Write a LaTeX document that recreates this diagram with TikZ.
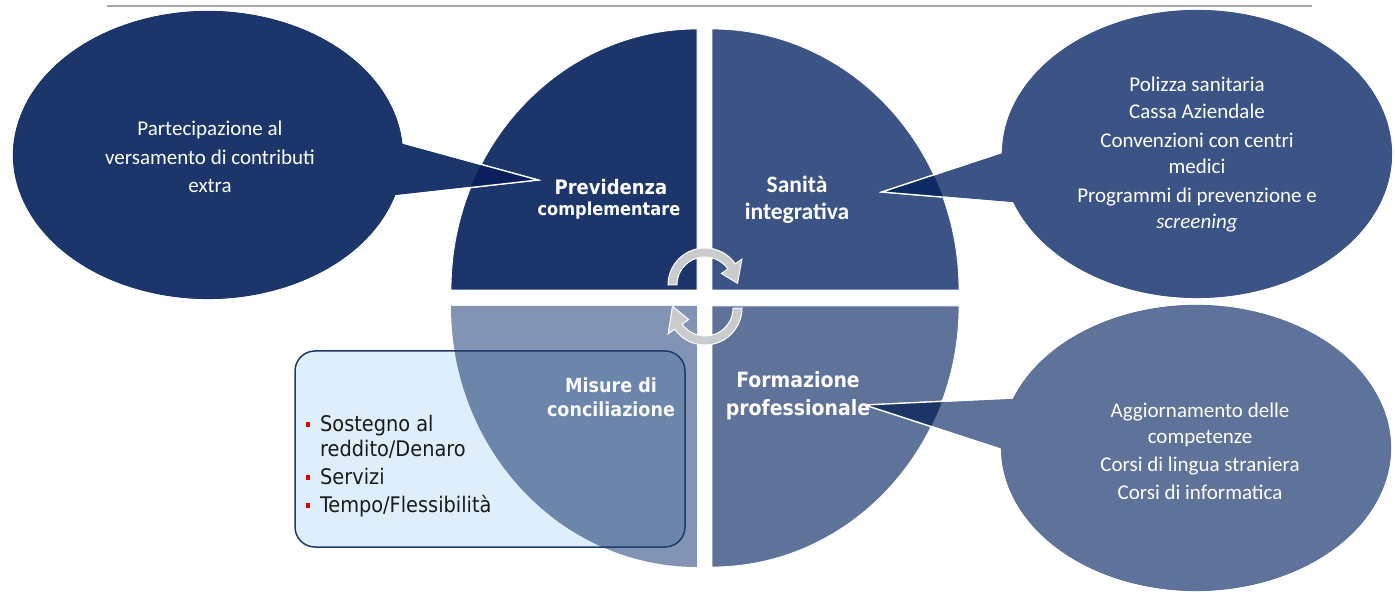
\documentclass[tikz,border=0pt]{standalone}
\usepackage{fontspec}
\setmainfont{Carlito}
\newfontfamily\tahoma[BoldFont={DejaVu Sans Condensed Bold}]{DejaVu Sans Condensed}
\definecolor{navyA}{HTML}{1C366C}
\definecolor{blueB}{HTML}{3C5485}
\definecolor{blueC}{HTML}{5F7299}
\definecolor{blueD}{HTML}{8393B4}
\definecolor{blueDbox}{HTML}{6B85AB}
\definecolor{ovA}{HTML}{0B1F5C}
\definecolor{ovB}{HTML}{0D2A62}
\definecolor{ovC}{HTML}{1D3466}
\definecolor{boxfill}{HTML}{DEEEFA}
\definecolor{boxline}{HTML}{1F3A6E}
\definecolor{arrowgray}{HTML}{CACBCD}
\definecolor{bulred}{HTML}{E00000}
\definecolor{linegray}{HTML}{A6A6A6}
\definecolor{bultext}{HTML}{1A1A1A}
\newcommand{\bulsq}{\makebox[14pt][l]{\textcolor{bulred}{\rule[0.22em]{4pt}{5pt}}}}
\tikzset{
  topline/.style={draw=linegray, line width=1.8pt},
  callout/.style={draw=white, line width=1.3pt},
  quad/.style={draw=white, line width=0.8pt},
  cyc/.style={fill=arrowgray, draw=white, line width=1pt},
  ctext/.style={text=white, align=center, font=\fontsize{21}{26}\selectfont, inner sep=0pt},
  qlab/.style={text=white, align=center, inner sep=0pt},
}
\def\qTL{(697,290) -- (451,290) arc[start angle=180, end angle=270, x radius=246, y radius=261] -- cycle}
\def\qTR{(712,290) -- (712,29) arc[start angle=270, end angle=360, x radius=247, y radius=261] -- cycle}
\def\qBR{(712,306) -- (959,306) arc[start angle=0, end angle=90, x radius=247, y radius=261] -- cycle}
\def\qBL{(697,306) -- (697,567) arc[start angle=90, end angle=180, x radius=246, y radius=261] -- cycle}
\def\cL{(396,195.9) arc[start angle=16.4, end angle=355.3, x radius=196, y radius=145] -- (538,180) -- cycle}
\def\cRT{(1001,152.7) arc[start angle=180.5, end angle=520.25, x radius=196, y radius=145] -- (882,192) -- cycle}
\def\cRB{(1012.2,398) arc[start angle=200.3, end angle=539.6, x radius=196, y radius=144] -- (865,405) -- cycle}
\begin{document}
\begin{tikzpicture}[x=1pt,y=-1pt]
\useasboundingbox (0,0) rectangle (1395,593);
% top rule
\coordinate (lineL) at (107,6);
\coordinate (lineR) at (1312,6);
\draw[topline] (lineL) -- (lineR);
% quadrants
\path[quad, fill=navyA] \qTL;
\path[quad, fill=blueB] \qTR;
\path[quad, fill=blueC] \qBR;
% box with bottom-left quadrant
\fill[boxfill, rounded corners=20pt] (295,351) rectangle (685,547);
\path[fill=blueD] \qBL;
\begin{scope}
  \clip[rounded corners=20pt] (295,351) rectangle (685,547);
  \path[fill=blueDbox] \qBL;
\end{scope}
\draw[boxline, line width=1.5pt, rounded corners=20pt] (295,351) rectangle (685,547);
% callouts
\path[callout, fill=navyA] \cL;
\begin{scope}\clip \qTL; \path[fill=ovA] \cL; \end{scope}
\path[callout] \cL;
\path[callout, fill=blueB] \cRT;
\begin{scope}\clip \qTR; \path[fill=ovB] \cRT; \end{scope}
\path[callout] \cRT;
\path[callout, fill=blueC] \cRB;
\begin{scope}\clip \qBR; \path[fill=ovC] \cRB; \end{scope}
\path[callout] \cRB;
% cycle arrows
\path[cyc] (668,285) arc[start angle=-180, end angle=-35, radius=37] -- (741.9,259.2) -- (737.5,283.3) -- (721.4,273.5) -- (727.9,268.9) arc[start angle=-35, end angle=-180, radius=28] -- cycle;
\path[cyc] (742,308) arc[start angle=0, end angle=145, radius=37] -- (668.1,333.8) -- (672.5,306.3) -- (688.6,319.5) -- (682.1,324.1) arc[start angle=145, end angle=0, radius=28] -- cycle;
% quadrant labels
\node[qlab, font=\tahoma\bfseries\fontsize{20}{22}\selectfont] (prev) at (611,187) {Previdenza};
\node[qlab, font=\tahoma\bfseries\fontsize{18}{20}\selectfont] (compl) at (609,211) {complementare};
\node[qlab, font=\bfseries\fontsize{23.5}{27}\selectfont] (sanita) at (797,200) {Sanità\\integrativa};
\node[qlab, font=\tahoma\bfseries\fontsize{21}{28}\selectfont] (form) at (798,396) {Formazione\\professionale};
\node[qlab, text=white!95!gray, font=\tahoma\bfseries\fontsize{19.5}{24}\selectfont] (misure) at (611,397) {Misure di\\conciliazione};
% callout texts
\node[ctext, font=\fontsize{21}{28.5}\selectfont] (tleft) at (210,157) {Partecipazione al\\versamento di contributi\\extra};
\node[ctext] (tright) at (1197,155) {Polizza sanitaria\\[1pt]Cassa Aziendale\\[3pt]Convenzioni con centri\\medici\\[3pt]Programmi di prevenzione e\\\textit{screening}};
\node[ctext] (tbottom) at (1200,451) {Aggiornamento delle\\competenze\\[2pt]Corsi di lingua straniera\\[2pt]Corsi di informatica};
% bullet list
\node[anchor=west, align=left, inner sep=0pt, text=bultext, font=\tahoma\fontsize{21.5}{25}\selectfont] (bullets) at (306,466)
  {\bulsq Sostegno al\\ \hphantom{\bulsq}reddito/Denaro\\[3pt]\bulsq Servizi\\[3pt]\bulsq Tempo/Flessibilità};
\end{tikzpicture}
\end{document}
